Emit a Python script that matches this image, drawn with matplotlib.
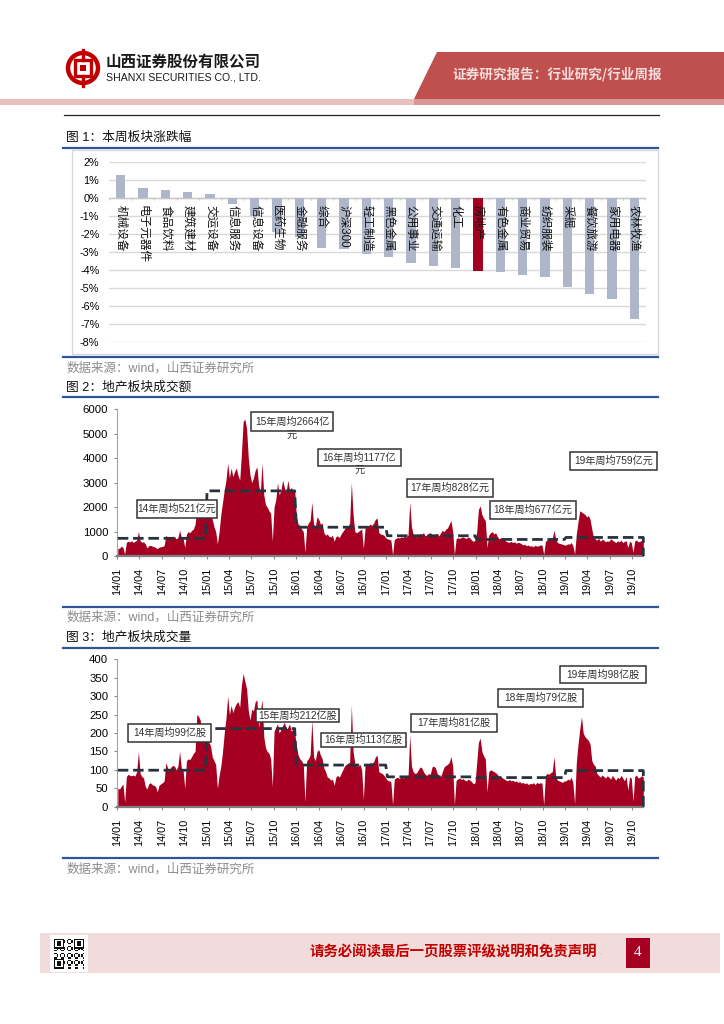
import numpy as np
import pandas as pd
import matplotlib
matplotlib.use('Agg')
import matplotlib.pyplot as plt
from matplotlib.patches import Rectangle, Polygon, Circle

plt.rcParams['font.family'] = ['Liberation Sans', 'Noto Sans CJK SC', 'DejaVu Sans']

# ---------------- data ----------------
sectors = ['机械设备', '电子元器件', '食品饮料', '建筑建材', '交运设备', '信息服务', '信息设备',
           '医药生物', '金融服务', '综合', '沪深300', '轻工制造', '黑色金属', '公用事业',
           '交通运输', '化工', '房地产', '有色金属', '商业贸易', '纺织服装', '采掘',
           '餐饮旅游', '家用电器', '农林牧渔']
changes = [1.26, 0.52, 0.43, 0.31, 0.22, -0.37, -1.0, -1.9, -2.2, -2.81, -2.86, -3.1, -3.28,
           -3.61, -3.76, -3.89, -4.07, -4.13, -4.26, -4.41, -4.94, -5.33, -5.63, -6.74]
highlight = '房地产'

# weekly turnover (亿元), one list per year
amt_2014 = [300, 320, 400, 350, 80, 560, 600, 580, 620, 560, 600, 650, 1000, 620, 560, 580, 500,
            330, 420, 440, 400, 380, 350, 300, 360, 380, 390, 430, 850, 760, 720, 780, 800, 800,
            700, 750, 1050, 760, 730, 350, 900, 1000, 950, 1050, 1100, 1300, 1900, 2100, 2000,
            1800, 1900, 1700]
amt_2015 = [1600, 1900, 1700, 1500, 1200, 1000, 500, 1000, 1700, 2200, 2700, 3100,
            3800, 3200, 3600, 3250, 3450, 3600, 3300, 3100,
            4200, 5500, 5600, 5200, 4000, 3300, 3000,
            3200, 3500, 3650, 2900, 2600, 3800,
            2500, 2100, 2000, 1850, 1750, 600,
            2000, 2300, 3000, 2500, 2700, 3100, 2800, 2600, 3100, 2700, 2800, 2700, 2700]
amt_2016 = [1600, 1300, 1250, 1100, 1000, 150, 1200, 1350, 1450, 2200, 1300, 1200, 1600, 1500,
            1300, 1350, 950, 850, 900, 800, 780, 850, 600, 800, 820, 750, 900, 1000, 1100, 1250,
            1200, 1350, 3000, 1700, 1000, 950, 1000, 1050, 1100, 300, 1150, 1200, 1250, 1300,
            1250, 1350, 1500, 1550, 950, 900, 880, 850, 750]
amt_2017 = [700, 680, 650, 50, 680, 720, 760, 740, 780, 760,
            800, 780, 850, 2200, 1200, 880, 820, 780, 830, 920,
            880, 960, 820, 870, 920, 960, 870, 820, 900, 920,
            820, 950, 1050, 1000, 1100, 1150, 1300, 1450, 1000, 60,
            700, 750, 720, 760, 780, 740, 720, 780, 740, 650, 600, 640]
amt_2018 = [1000, 1900, 2050, 1700, 1550, 1450, 350, 850, 950, 1000,
            900, 950, 800, 700, 750, 720, 680, 600, 580, 560,
            600, 550, 580, 520, 560, 540, 500, 450, 480, 420,
            450, 400, 420, 380, 440, 400, 420, 450, 450, 60,
            600, 650, 700, 680, 720, 1050, 700, 550, 520, 500, 480, 450]
amt_2019 = [450, 500, 480, 550, 420, 80, 900, 1400, 1850, 1800,
            1750, 1700, 1600, 1650, 1500, 1100, 750, 700, 650, 720,
            600, 680, 650, 580, 620, 600, 700, 650, 600, 550,
            620, 580, 650, 550, 600, 620, 350, 600, 550, 150,
            620, 650, 580, 600, 640, 600]
amt_avg = [723, 2664, 1177, 828, 677, 759]
amt_labels = ['14年周均521亿元', '15年周均2664亿元', '16年周均1177亿元',
              '17年周均828亿元', '18年周均677亿元', '19年周均759亿元']

# weekly volume (亿股)
vol_2014 = [50, 48, 55, 62, 12, 82, 88, 85, 84, 86, 83, 95, 150, 90, 82, 78, 55, 48, 62, 65, 60,
            58, 55, 40, 58, 62, 65, 70, 120, 105, 100, 108, 112, 110, 100, 110, 150, 105, 100,
            50, 125, 130, 128, 136, 145, 150, 250, 245, 235, 190, 180, 175]
vol_2015 = [195, 175, 165, 135, 125, 115, 50, 85, 110, 150, 200, 240, 300, 250, 275, 255, 270,
            280, 285, 270, 330, 362, 340, 320, 260, 235, 265, 260, 285, 290, 215, 260, 290, 190,
            160, 150, 145, 130, 55, 205, 215, 225, 200, 210, 220, 230, 210, 215, 225, 205, 210, 200]
vol_2016 = [165, 140, 130, 125, 115, 14, 125, 130, 140, 235, 135, 125, 150, 155, 140, 130, 105,
            95, 80, 78, 72, 75, 58, 80, 85, 80, 90, 100, 110, 115, 118, 120, 276, 150, 118, 112,
            110, 115, 100, 20, 115, 118, 115, 120, 118, 122, 135, 140, 95, 92, 90, 85, 78]
vol_2017 = [72, 70, 68, 5, 75, 78, 80, 76, 82, 78,
            80, 85, 80, 195, 110, 95, 90, 92, 100, 108,
            105, 95, 88, 85, 90, 88, 108, 110, 105, 90,
            85, 82, 95, 108, 112, 115, 120, 136, 110, 5,
            72, 75, 78, 74, 76, 72, 70, 75, 72, 68, 62, 65]
vol_2018 = [120, 175, 186, 150, 138, 130, 40, 95, 100, 98,
            95, 92, 88, 80, 82, 78, 75, 72, 70, 74,
            70, 72, 68, 70, 66, 68, 64, 66, 62, 65,
            60, 63, 62, 65, 60, 66, 63, 65, 64, 5,
            85, 90, 88, 92, 95, 136, 80, 72, 70, 68, 66, 70]
vol_2019 = [70, 75, 72, 80, 65, 8, 120, 170, 210, 244,
            200, 190, 185, 180, 170, 125, 115, 110, 90, 85,
            80, 86, 82, 78, 84, 80, 75, 85, 78, 72,
            80, 76, 85, 78, 70, 82, 45, 80, 78, 15,
            82, 86, 78, 80, 84, 80]
vol_avg = [99, 212, 113, 81, 79, 98]
vol_labels = ['14年周均99亿股', '15年周均212亿股', '16年周均113亿股',
              '17年周均81亿股', '18年周均79亿股', '19年周均98亿股']

tick_start, tick_end = '2014-01-01', '2019-10-01'
first_week = '2014-01-03'

# ---------------- helpers ----------------
W, H = 724, 1024
RED = '#a50021'
BLUE = '#2f5597'
fig = plt.figure(figsize=(W / 100, H / 100), dpi=100)


def px_axes(x0, y0, x1, y1):
    a = fig.add_axes([x0 / W, 1 - y1 / H, (x1 - x0) / W, (y1 - y0) / H])
    a.set_facecolor('none')
    return a


amt_years = [amt_2014, amt_2015, amt_2016, amt_2017, amt_2018, amt_2019]
vol_years = [vol_2014, vol_2015, vol_2016, vol_2017, vol_2018, vol_2019]
amount = np.concatenate(amt_years)
volume = np.concatenate(vol_years)
dates = pd.date_range(first_week, periods=len(amount), freq='W-FRI')
qticks = pd.date_range(tick_start, tick_end, freq='QS')


def avg_line(years, avgs):
    ys = np.concatenate([[a] * len(y) for y, a in zip(years, avgs)])
    xs = list(dates) + [dates[-1]]
    return xs, list(ys) + [0]


def ts_chart(box, values, years, avgs, ymax, ystep):
    ax = px_axes(*box)
    ax.fill_between(dates, values, 0, color=RED, lw=0, zorder=2)
    lx, ly = avg_line(years, avgs)
    ax.plot(lx, ly, color='#28323e', lw=2.0, ls=(0, (3.8, 1.7)), zorder=3, clip_on=False)
    ax.set_xlim(pd.Timestamp(tick_start), dates[-1])
    ax.set_ylim(0, ymax)
    ax.set_yticks(np.arange(0, ymax + 1, ystep))
    ax.set_xticks(qticks)
    ax.set_xticklabels([d.strftime('%y/%m') for d in qticks], rotation=90, fontsize=7.8)
    ax.tick_params(axis='y', labelsize=8.2, direction='out', length=2.5, color='#8c8c8c', pad=4)
    ax.tick_params(axis='x', direction='out', length=2.5, color='#8c8c8c', pad=6)
    for s in ('top', 'right'):
        ax.spines[s].set_visible(False)
    ax.spines['left'].set_color('#a6a6a6')
    ax.spines['left'].set_linewidth(0.8)
    ax.spines['bottom'].set_color('#7f7f7f')
    ax.spines['bottom'].set_linewidth(1.6)
    return ax


# ---------------- chart 1 ----------------
ax1 = px_axes(109.5, 161.7, 645.5, 342)
n = len(sectors)
xs = np.arange(n)
cols = [RED if s == highlight else '#aeb7ca' for s in sectors]
ax1.bar(xs, changes, width=0.42, color=cols, zorder=2)
ax1.set_xlim(-0.5, n - 0.5)
ax1.set_ylim(-8, 2)
ax1.set_yticks(np.arange(-8, 3))
ax1.set_yticklabels([f'{v}%' for v in range(-8, 3)])
ax1.yaxis.grid(True, color='#d9d9d9', lw=1.0)
ax1.set_axisbelow(True)
for sp in ax1.spines.values():
    sp.set_visible(False)
ax1.tick_params(axis='y', length=0, pad=7.3, labelsize=7.8)
ax1.set_xticks([])
ax1.axhline(0, color='#c8c8c8', lw=1.0, zorder=1)
ax1.vlines(np.arange(n + 1) - 0.5, -0.15, 0, color='#c8c8c8', lw=0.8, zorder=1)
for i, s in enumerate(sectors):
    ax1.text(i, -0.42, s, rotation=-90, ha='center', va='top', fontsize=8.4, zorder=4,
             color='#111111')

# ---------------- chart 2 & 3 ----------------
ts_chart((117.3, 409.3, 643.3, 556), amount, amt_years, amt_avg, 6000, 1000)
ts_chart((117.3, 659.3, 643.3, 806.7), volume, vol_years, vol_avg, 400, 50)

# ---------------- page overlay ----------------
pg = fig.add_axes([0, 0, 1, 1])
pg.set_xlim(0, W)
pg.set_ylim(H, 0)
pg.axis('off')
pg.set_facecolor('none')

# header
pg.add_patch(Polygon([[437, 52], [724, 52], [724, 99], [414, 99]], closed=True,
                     fc='#c0504d', ec='none'))
pg.add_patch(Rectangle((0, 99), 724, 6, fc='#d99694', ec='none'))
pg.add_patch(Rectangle((0, 99), 414, 6, fc='#e8c0bf', ec='none'))
pg.text(557, 74, '证券研究报告：行业研究/行业周报', fontsize=9.8, color='#f6dcdc',
        ha='center', va='center', fontweight='bold', family=['Noto Sans CJK SC'])
pg.plot([64, 659], [115, 115], color='#222222', lw=0.9)

# logo
pg.add_patch(Circle((83, 68), 15, fc='none', ec='#c00000', lw=3.2))
pg.add_patch(Rectangle((75, 60), 16, 16, fc='none', ec='#c00000', lw=2.4))
pg.add_patch(Rectangle((80, 65), 6, 6, fc='#c00000', ec='none'))
pg.plot([83, 83], [50, 60], color='#c00000', lw=2.4)
pg.plot([83, 83], [76, 86], color='#c00000', lw=2.4)
pg.text(106, 62, '山西证券股份有限公司', fontsize=11.2, fontweight='bold', color='#1a1a1a',
        ha='left', va='center', family=['Noto Sans CJK SC'])
pg.text(106, 78, 'SHANXI SECURITIES CO., LTD.', fontsize=7.6, color='#1a1a1a',
        ha='left', va='center', family=['Liberation Sans'])

# section titles / rules / sources
sections = [('图 1：本周板块涨跌幅', 138.3, 147.7, 357.3, 368.5),
            ('图 2：地产板块成交额', 387.7, 397.3, 607.3, 617.3),
            ('图 3：地产板块成交量', 637.7, 647.7, 858.3, 869.3)]
for title, ty, l1, l2, sy in sections:
    pg.text(66.5, ty, title, fontsize=9.2, color='#111111', ha='left', va='center')
    pg.plot([63, 658], [l1, l1], color=BLUE, lw=1.6)
    pg.plot([63, 658], [l2, l2], color=BLUE, lw=1.6)
    pg.text(66.5, sy, '数据来源：wind，山西证券研究所', fontsize=9, color='#8c8c8c',
            ha='left', va='center')

# chart 1 frame
pg.add_patch(Rectangle((71.7, 150), 586, 204.3, fc='none', ec='#d9d9d9', lw=1.0))

# annotation boxes
amt_boxes = [(137, 500, 217, 518, False), (250.7, 412.3, 333.3, 430.7, True),
             (318.3, 449, 400.7, 466, True), (406.7, 479, 493.3, 496.7, False),
             (490, 500.7, 576, 519, False), (570, 452.3, 656.7, 470, False)]
vol_boxes = [(128.3, 724.3, 210.7, 741.7), (256, 709, 339.3, 721.7),
             (321, 732.7, 405.7, 747.3), (411, 714.3, 496.7, 731.7),
             (498.3, 689.3, 582.7, 706.7), (560, 665.7, 645.7, 683.3)]


def ann(x0, y0, x1, y1, label, wrap=False):
    pg.add_patch(Rectangle((x0, y0), x1 - x0, y1 - y0, fc='white', ec='#333333', lw=1.1,
                           zorder=5))
    cx, cy = (x0 + x1) / 2, (y0 + y1) / 2
    fs = 7.3
    if wrap:
        pg.text(cx, cy, label[:-1], fontsize=fs, color='#333333', ha='center', va='center',
                zorder=6)
        pg.text(cx, y1 + 4, label[-1], fontsize=fs, color='#333333', ha='center',
                va='center', zorder=6)
    else:
        pg.text(cx, cy, label, fontsize=fs, color='#333333', ha='center', va='center', zorder=6)


for (x0, y0, x1, y1, wr), lab in zip(amt_boxes, amt_labels):
    ann(x0, y0, x1, y1, lab, wr)
for (x0, y0, x1, y1), lab in zip(vol_boxes, vol_labels):
    ann(x0, y0, x1, y1, lab)

# footer
pg.add_patch(Rectangle((40, 933), 680, 40, fc='#f2dcdb', ec='none'))
pg.add_patch(Rectangle((50, 935), 38, 37, fc='white', ec='none'))
qn = 21
cell = 30 / qn
for i in range(qn):
    for j in range(qn):
        finder = (i < 7 and j < 7) or (i < 7 and j >= qn - 7) or (i >= qn - 7 and j < 7)
        if finder:
            ii, jj = (i % (qn - 7) if i >= 7 else i), (j % (qn - 7) if j >= 7 else j)
            ring = max(abs(ii - 3), abs(jj - 3))
            on = ring in (0, 1, 3)
        else:
            on = ((i * 7 + j * 11 + i * j) % 5) < 2
        if on:
            pg.add_patch(Rectangle((54 + j * cell, 938.5 + i * cell), cell, cell,
                                   fc='#111111', ec='none'))
pg.text(453, 952, '请务必阅读最后一页股票评级说明和免责声明', fontsize=10.4, color='#c00000',
        ha='center', va='center', fontweight='bold', family=['Noto Sans CJK SC'])
pg.add_patch(Rectangle((625.5, 938), 24, 30, fc=RED, ec='none'))
pg.text(637.5, 953, '4', fontsize=11, color='white', ha='center', va='center',
        family=['Liberation Serif'])

fig.savefig('out.png', dpi=100)
